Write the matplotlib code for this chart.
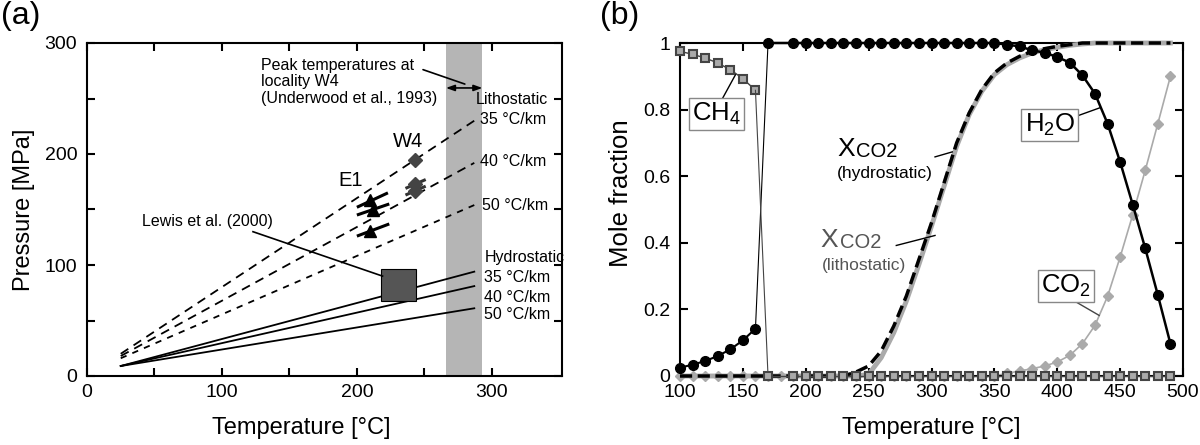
import matplotlib
matplotlib.use('Agg')
import matplotlib.pyplot as plt
from matplotlib.patches import Rectangle
from matplotlib.ticker import FuncFormatter

plt.rcParams['font.family'] = ['Liberation Sans', 'DejaVu Sans']
plt.rcParams['mathtext.fontset'] = 'custom'
plt.rcParams['mathtext.rm'] = 'Liberation Sans'
plt.rcParams['mathtext.it'] = 'Liberation Sans:italic'
plt.rcParams['mathtext.bf'] = 'Liberation Sans:bold'

# ---------------- panel (a) data ----------------
grad_labels = ['35 °C/km', '40 °C/km', '50 °C/km']
geo_T = [25, 287]
lith_P0 = [20, 18, 16]
lith_P1 = [230, 192, 154]
hydro_P0 = [9, 9, 9]
hydro_P1 = [94, 81, 61]
lith_label_T = [291, 291, 293]
lith_label_P = [231, 193, 154]
hydro_label_P = [89, 71, 55]
peak_band_T = [266, 293]
lewis_T = [218, 244]
lewis_P = [68, 96]
e1_T = [210, 212, 210]
e1_P = [159, 149.5, 131]
e1_seg_T0 = [200, 200, 200]
e1_seg_T1 = [223, 224, 224]
e1_seg_P0 = [152, 145, 126]
e1_seg_P1 = [165, 155, 137]
w4_T = [243, 243, 243]
w4_P = [195, 173, 167]
w4_seg_T0 = [236, 236]
w4_seg_T1 = [251, 251]
w4_seg_P0 = [169, 163]
w4_seg_P1 = [177, 171]

# ---------------- panel (b) data ----------------
T_all = [100, 110, 120, 130, 140, 150, 160, 170, 180, 190, 200, 210, 220, 230,
         240, 250, 260, 270, 280, 290, 300, 310, 320, 330, 340, 350, 360, 370,
         380, 390, 400, 410, 420, 430, 440, 450, 460, 470, 480, 490]
T_low = [100, 110, 120, 130, 140, 150, 160]
T_high = [170, 190, 200, 210, 220, 230, 240, 250, 260, 270, 280, 290, 300, 310,
          320, 330, 340, 350, 360, 370, 380, 390, 400, 410, 420, 430, 440, 450,
          460, 470, 480, 490]
h2o_low = [0.025, 0.034, 0.045, 0.06, 0.08, 0.107, 0.142]
h2o_high = [1.0, 1.0, 1.0, 1.0, 1.0, 1.0, 1.0, 1.0, 1.0, 1.0, 1.0, 1.0, 1.0, 1.0,
            1.0, 1.0, 1.0, 1.0, 0.995, 0.99, 0.978, 0.971, 0.958, 0.941, 0.903,
            0.848, 0.758, 0.643, 0.515, 0.383, 0.243, 0.097]
ch4_low = [0.975, 0.966, 0.955, 0.94, 0.92, 0.893, 0.858]
ch4_high = [0.0] * 32
co2 = [0, 0, 0, 0, 0, 0, 0, 0, 0, 0, 0, 0, 0, 0, 0, 0, 0, 0, 0, 0, 0, 0, 0, 0,
       0, 0, 0.008, 0.015, 0.022, 0.03, 0.042, 0.062, 0.097, 0.152, 0.239,
       0.357, 0.484, 0.618, 0.758, 0.9]
xco2_hydro = [0, 0, 0, 0, 0, 0, 0, 0, 0, 0, 0, 0, 0, 0, 0.012, 0.03, 0.075,
              0.15, 0.24, 0.35, 0.46, 0.58, 0.70, 0.79, 0.86, 0.91, 0.94, 0.96,
              0.975, 0.983, 0.99, 0.995, 1.0, 1.0, 1.0, 1.0, 1.0, 1.0, 1.0, 1.0]
xco2_lith = [0, 0, 0, 0, 0, 0, 0, 0, 0, 0, 0, 0, 0, 0, 0, 0.005, 0.055, 0.13,
             0.225, 0.335, 0.45, 0.57, 0.69, 0.785, 0.855, 0.905, 0.935, 0.955,
             0.97, 0.98, 0.987, 0.993, 0.997, 1.0, 1.0, 1.0, 1.0, 1.0, 1.0, 1.0]

W, H = 1200, 445
fig = plt.figure(figsize=(12, 4.45), dpi=100)

def style_axes(ax):
    for s in ax.spines.values():
        s.set_linewidth(1.5)
    ax.tick_params(direction='in', top=True, right=True, length=6, width=1.5,
                   labelsize=14, colors='black')
    ax.tick_params(axis='y', pad=7)
    ax.tick_params(axis='x', pad=6)

# ================= panel (a) =================
ax1 = fig.add_axes([87 / W, 1 - 376 / H, (562 - 87) / W, (376 - 43) / H])
ax1.set_xlim(0, 352)
ax1.set_ylim(0, 300)
ax1.set_xticks([0, 50, 100, 150, 200, 250, 300])
ax1.set_yticks([0, 50, 100, 150, 200, 250, 300])
fmt100 = FuncFormatter(lambda v, p: '%d' % v if int(round(v)) % 100 == 0 else '')
ax1.xaxis.set_major_formatter(fmt100)
ax1.yaxis.set_major_formatter(fmt100)
style_axes(ax1)

ax1.axvspan(peak_band_T[0], peak_band_T[1], color='#b5b5b5', lw=0, zorder=0)

lith_dashes = [(5, 3.5), (5, 3.5), (3.5, 3.5)]
for p0, p1, d in zip(lith_P0, lith_P1, lith_dashes):
    ax1.plot(geo_T, [p0, p1], color='black', lw=1.3, dashes=d)
for p0, p1 in zip(hydro_P0, hydro_P1):
    ax1.plot(geo_T, [p0, p1], color='black', lw=1.3)

for lab, t, p in zip(grad_labels, lith_label_T, lith_label_P):
    ax1.text(t, p, lab, fontsize=11.5, ha='left', va='center')
for lab, p in zip(grad_labels, hydro_label_P):
    ax1.text(294.5, p, lab, fontsize=11.5, ha='left', va='center')
ax1.text(288, 249, 'Lithostatic', fontsize=11.5, ha='left', va='center')
ax1.text(294.5, 107, 'Hydrostatic', fontsize=11.5, ha='left', va='center')

ax1.add_patch(Rectangle((lewis_T[0], lewis_P[0]), lewis_T[1] - lewis_T[0],
                        lewis_P[1] - lewis_P[0], facecolor='#555555',
                        edgecolor='black', lw=0.8, zorder=3))
ax1.text(137.5, 139, 'Lewis et al. (2000)', fontsize=11.5, ha='right', va='center')
ax1.plot([123, 219], [130, 90], color='black', lw=1.2, zorder=4)

for t0, t1, p0, p1 in zip(e1_seg_T0, e1_seg_T1, e1_seg_P0, e1_seg_P1):
    ax1.plot([t0, t1], [p0, p1], color='black', lw=2.2, solid_capstyle='butt')
ax1.plot(e1_T, e1_P, ls='none', marker='^', ms=8, color='black', zorder=5)
for t0, t1, p0, p1 in zip(w4_seg_T0, w4_seg_T1, w4_seg_P0, w4_seg_P1):
    ax1.plot([t0, t1], [p0, p1], color='#333333', lw=2.2, solid_capstyle='butt')
ax1.plot(w4_T, w4_P, ls='none', marker='D', ms=7, color='#444444', zorder=5)
ax1.text(186, 176, 'E1', fontsize=14.5, ha='left', va='center')
ax1.text(227, 211, 'W4', fontsize=14.5, ha='left', va='center')

ax1.text(129, 265, 'Peak temperatures at\nlocality W4\n(Underwood et al., 1993)',
         fontsize=11.5, ha='left', va='center', linespacing=1.15)
ax1.annotate('', xy=(280, 263), xytext=(249, 276),
             arrowprops=dict(arrowstyle='-', lw=1.2, color='black',
                             shrinkA=0, shrinkB=0))
ax1.annotate('', xy=(peak_band_T[0], 259.5), xytext=(peak_band_T[1], 259.5),
             arrowprops=dict(arrowstyle='<|-|>,head_length=0.5,head_width=0.18',
                             lw=1.2, color='black', shrinkA=0, shrinkB=0))

ax1.set_xlabel('Temperature [°C]', fontsize=17)
ax1.set_ylabel('Pressure [MPa]', fontsize=17)
ax1.xaxis.set_label_coords(0.45, -0.123)
ax1.yaxis.set_label_coords(-0.11, 0.5)

# ================= panel (b) =================
ax2 = fig.add_axes([680 / W, 1 - 376 / H, 503 / W, (376 - 43) / H])
ax2.set_xlim(100, 500)
ax2.set_ylim(0, 1)
ax2.set_xticks([100, 150, 200, 250, 300, 350, 400, 450, 500])
ax2.set_yticks([0, 0.2, 0.4, 0.6, 0.8, 1.0])
ax2.yaxis.set_major_formatter(FuncFormatter(lambda v, p: '%g' % round(v, 1)))
style_axes(ax2)

ax2.plot(T_all, co2, color='#aaaaaa', lw=1.2, marker='D', ms=5,
         mfc='#aaaaaa', mec='#aaaaaa', zorder=2, clip_on=False)
ax2.plot(T_all, xco2_lith, color='#aaaaaa', lw=3.5, zorder=3, clip_on=False)
ax2.plot(T_all, xco2_hydro, color='black', lw=2.5, dashes=(3.5, 1.6), zorder=4,
         clip_on=False)
# H2O
ax2.plot(T_low, h2o_low, color='black', lw=1.5, marker='o', ms=7, zorder=6,
         clip_on=False)
ax2.plot([T_low[-1], T_high[0]], [h2o_low[-1], h2o_high[0]], color='black',
         lw=0.8, zorder=6)
ax2.plot(T_high, h2o_high, color='black', lw=1.8, marker='o', ms=7, zorder=6,
         clip_on=False)
# CH4
ax2.plot(T_low, ch4_low, color='#444444', lw=1.0, marker='s', ms=6,
         mfc='#aaaaaa', mec='#444444', mew=1.5, zorder=7, clip_on=False)
ax2.plot([T_low[-1], T_high[0]], [ch4_low[-1], ch4_high[0]], color='#444444',
         lw=0.8, zorder=7)
ax2.plot(T_high, ch4_high, color='#444444', lw=1.0, marker='s', ms=6,
         mfc='#aaaaaa', mec='#444444', mew=1.5, zorder=7, clip_on=False)

box = dict(boxstyle='square,pad=0.12', fc='white', ec='#888888', lw=1.0)
ax2.text(129, 0.786, r'CH$_{\mathregular{4}}$', fontsize=18.5, ha='center',
         va='center', bbox=box, zorder=8)
ax2.plot([133, 144.3], [0.828, 0.906], color='black', lw=1.0, zorder=5)
ax2.text(394, 0.753, r'H$_{\mathregular{2}}$O', fontsize=18.5, ha='center',
         va='center', bbox=box, zorder=8)
ax2.plot([417.4, 434.3], [0.783, 0.806], color='black', lw=1.0, zorder=5)
ax2.text(406.7, 0.271, r'CO$_{\mathregular{2}}$', fontsize=18.5, ha='center',
         va='center', bbox=box, zorder=8)
ax2.plot([412.8, 433.3], [0.227, 0.182], color='#444444', lw=1.0, zorder=5)

# XCO2 labels
xh = ax2.text(224.8, 0.683, 'X', fontsize=19, ha='left', va='center', color='black')
ax2.annotate('CO2', xy=(1, 0), xycoords=xh, xytext=(1, 0),
             textcoords='offset points', fontsize=14.5, ha='left', va='bottom',
             color='black')
ax2.text(224.8, 0.608, '(hydrostatic)', fontsize=12.5, ha='left', va='center')
ax2.plot([302.8, 316.5], [0.658, 0.673], color='black', lw=1.0, zorder=5)

xl = ax2.text(212, 0.407, 'X', fontsize=19, ha='left', va='center', color='#555555')
ax2.annotate('CO2', xy=(1, 0), xycoords=xl, xytext=(1, 0),
             textcoords='offset points', fontsize=14.5, ha='left', va='bottom',
             color='#555555')
ax2.text(212.5, 0.332, '(lithostatic)', fontsize=12.5, ha='left', va='center',
         color='#555555')
ax2.plot([272, 302.8], [0.392, 0.422], color='black', lw=1.0, zorder=5)

ax2.set_xlabel('Temperature [°C]', fontsize=17)
ax2.set_ylabel('Mole fraction', fontsize=18.5)
ax2.xaxis.set_label_coords(0.5, -0.123)
ax2.yaxis.set_label_coords(-0.093, 0.55)

fig.text(1 / W, 1 - 1 / H, '(a)', fontsize=23, ha='left', va='top')
fig.text(600 / W, 1 - 1 / H, '(b)', fontsize=23, ha='left', va='top')

fig.savefig('out.png', dpi=100)
